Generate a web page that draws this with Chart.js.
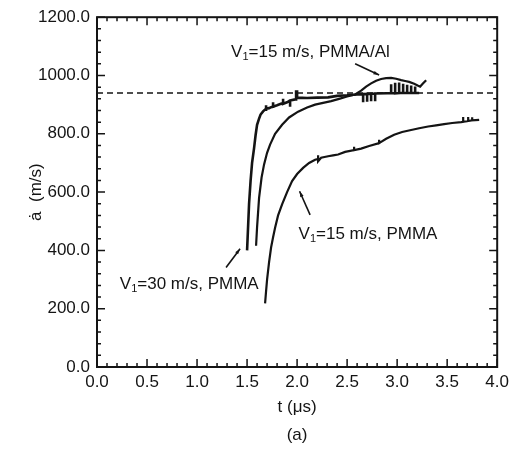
<!DOCTYPE html>
<html>
<head>
<meta charset="utf-8">
<script src="https://cdn.jsdelivr.net/npm/chart.js@4.4.1/dist/chart.umd.min.js"></script>
<style>
  html, body { margin: 0; padding: 0; background: #fff; }
  canvas { display: block; }
</style>
</head>
<body>
<canvas id="chart" width="514" height="455"></canvas>
<script>
// V1 = 30 m/s, PMMA (repeated t values are the vertical noise spikes of the record)
const tFast = [1.50, 1.51, 1.52, 1.535, 1.55, 1.57, 1.585, 1.60, 1.62, 1.635, 1.66, 1.68, 1.69, 1.69, 1.69, 1.72, 1.75, 1.76, 1.76, 1.76,
  1.80, 1.85, 1.86, 1.86, 1.86, 1.90, 1.92, 1.93, 1.93, 1.93, 1.98, 1.99, 1.99, 2.00, 2.00, 2.10, 2.20, 2.31, 2.40, 2.50,
  2.60, 2.66, 2.66, 2.66, 2.70, 2.70, 2.70, 2.74, 2.74, 2.74, 2.78, 2.78, 2.78, 2.90, 2.94, 2.94, 2.94, 2.98, 2.98, 2.98,
  3.02, 3.02, 3.02, 3.06, 3.06, 3.06, 3.10, 3.10, 3.10, 3.14, 3.14, 3.14, 3.18, 3.18, 3.18, 3.22];
const vFast = [400, 480, 560, 638, 700, 751, 795, 831, 852, 866, 877, 883, 883, 898, 886, 888, 893, 893, 908, 893,
  898, 905, 905, 920, 903, 908, 912, 912, 893, 914, 918, 918, 945, 945, 924, 923, 924, 925, 930, 932,
  935, 936, 908, 936, 937, 910, 937, 937, 912, 937, 938, 912, 938, 939, 939, 970, 939, 939, 975, 939,
  940, 976, 940, 940, 972, 940, 940, 968, 940, 940, 966, 940, 940, 962, 940, 940];

// V1 = 15 m/s, PMMA/Al
const tAl = [1.59, 1.60, 1.62, 1.645, 1.67, 1.70, 1.73, 1.78, 1.85, 1.92, 2.01, 2.10, 2.18, 2.26, 2.34, 2.42, 2.50, 2.58, 2.64, 2.69,
  2.74, 2.79, 2.84, 2.89, 2.94, 2.99, 3.04, 3.08, 3.12, 3.17, 3.21, 3.23, 3.26, 3.29];
const vAl = [416, 480, 580, 650, 695, 735, 763, 800, 831, 856, 876, 890, 900, 906, 912, 920, 928, 935, 948, 962,
  973, 982, 988, 991, 992, 989, 984, 981, 978, 972, 965, 962, 973, 984];

// V1 = 15 m/s, PMMA
const tSlow = [1.68, 1.69, 1.70, 1.72, 1.74, 1.76, 1.78, 1.81, 1.85, 1.90, 1.95, 2.00, 2.06, 2.12, 2.18, 2.21, 2.21, 2.21, 2.24, 2.31,
  2.36, 2.41, 2.48, 2.57, 2.57, 2.57, 2.64, 2.72, 2.82, 2.82, 2.82, 2.89, 2.97, 3.05, 3.14, 3.22, 3.31, 3.39, 3.47, 3.55,
  3.64, 3.66, 3.66, 3.66, 3.70, 3.71, 3.71, 3.71, 3.75, 3.75, 3.75, 3.82];
const vSlow = [218, 260, 300, 360, 410, 445, 478, 520, 558, 600, 638, 662, 683, 700, 711, 714, 726, 706, 718, 723,
  726, 729, 738, 744, 756, 744, 749, 758, 768, 780, 768, 783, 797, 806, 813, 819, 825, 829, 833, 837,
  840, 841, 858, 841, 843, 844, 858, 844, 846, 857, 846, 848];

const refLevel = 940;
const xMin = 0, xMax = 4.0, xStep = 0.5;
const yMin = 0, yMax = 1200, yStep = 200;

const ink = '#141414';
const fontFamily = '"Liberation Sans", Arial, sans-serif';
const fontSize = 17;

const notes = [
  { text: '=15 m/s, PMMA/Al', x: 1.34, y: 1064, from: [2.58, 1040], to: [2.82, 1002] },
  { text: '=30 m/s, PMMA', x: 0.228, y: 269, from: [1.29, 341], to: [1.43, 406] },
  { text: '=15 m/s, PMMA', x: 2.015, y: 440, from: [2.13, 522], to: [2.025, 603] }
];

function toPoints(ts, vs) {
  return ts.map((t, i) => ({ x: t, y: vs[i] }));
}

const frameTicks = {
  id: 'frameTicks',
  afterDatasetsDraw(chart) {
    const { ctx, chartArea: a, scales: { x, y } } = chart;
    ctx.save();
    ctx.strokeStyle = ink;
    ctx.lineWidth = 1.5;
    ctx.beginPath();
    for (let i = 0; i <= 40; i++) {
      const px = x.getPixelForValue(i * 0.1);
      const len = i % 5 === 0 ? 8 : 4;
      ctx.moveTo(px, a.bottom); ctx.lineTo(px, a.bottom - len);
      ctx.moveTo(px, a.top); ctx.lineTo(px, a.top + len);
    }
    for (let i = 0; i <= 30; i++) {
      const py = y.getPixelForValue(i * 40);
      const len = i % 5 === 0 ? 8 : 4;
      ctx.moveTo(a.left, py); ctx.lineTo(a.left + len, py);
      ctx.moveTo(a.right, py); ctx.lineTo(a.right - len, py);
    }
    ctx.stroke();
    ctx.lineWidth = 2;
    ctx.strokeRect(a.left, a.top, a.right - a.left, a.bottom - a.top);
    ctx.restore();
  }
};

const labels = {
  id: 'labels',
  afterDraw(chart) {
    const { ctx, scales: { x, y } } = chart;
    ctx.save();
    ctx.fillStyle = ink;
    ctx.strokeStyle = ink;
    ctx.textBaseline = 'alphabetic';
    notes.forEach(n => {
      let px = x.getPixelForValue(n.x);
      const py = y.getPixelForValue(n.y);
      ctx.font = fontSize + 'px ' + fontFamily;
      ctx.fillText('V', px, py);
      px += ctx.measureText('V').width;
      ctx.font = '11px ' + fontFamily;
      ctx.fillText('1', px, py + 3);
      px += ctx.measureText('1').width;
      ctx.font = fontSize + 'px ' + fontFamily;
      ctx.fillText(n.text, px, py);

      const x0 = x.getPixelForValue(n.from[0]), y0 = y.getPixelForValue(n.from[1]);
      const x1 = x.getPixelForValue(n.to[0]), y1 = y.getPixelForValue(n.to[1]);
      ctx.lineWidth = 1.6;
      ctx.beginPath();
      ctx.moveTo(x0, y0);
      ctx.lineTo(x1, y1);
      ctx.stroke();
      const ang = Math.atan2(y1 - y0, x1 - x0);
      ctx.beginPath();
      ctx.moveTo(x1, y1);
      ctx.lineTo(x1 - 6 * Math.cos(ang - 0.3), y1 - 6 * Math.sin(ang - 0.3));
      ctx.lineTo(x1 - 6 * Math.cos(ang + 0.3), y1 - 6 * Math.sin(ang + 0.3));
      ctx.closePath();
      ctx.fill();
    });
    ctx.restore();
  }
};

const curve = { showLine: true, pointRadius: 0, borderColor: ink, borderWidth: 2.2, tension: 0, fill: false };

new Chart(document.getElementById('chart'), {
  type: 'scatter',
  data: {
    datasets: [
      { ...curve, data: [{ x: xMin, y: refLevel }, { x: xMax, y: refLevel }], borderWidth: 1.5, borderDash: [6, 4] },
      { ...curve, data: toPoints(tFast, vFast), borderWidth: 2.6 },
      { ...curve, data: toPoints(tAl, vAl) },
      { ...curve, data: toPoints(tSlow, vSlow) }
    ]
  },
  options: {
    responsive: false,
    animation: false,
    layout: { padding: { left: 0, right: 14, top: 15, bottom: 0 } },
    plugins: {
      legend: { display: false },
      tooltip: { enabled: false },
      title: {
        display: true,
        text: '(a)',
        position: 'bottom',
        fullSize: false,
        color: ink,
        font: { family: fontFamily, size: fontSize, weight: 'normal' },
        padding: { top: 0, bottom: 9.6 }
      }
    },
    scales: {
      x: {
        type: 'linear',
        min: xMin, max: xMax,
        afterFit: s => { s.height = 58; },
        grid: { display: false, drawTicks: false },
        border: { display: false },
        ticks: {
          stepSize: xStep, padding: 5, color: ink,
          font: { family: fontFamily, size: fontSize },
          maxRotation: 0,
          callback: v => v.toFixed(1)
        },
        title: {
          display: true, text: 't (μs)', color: ink,
          font: { family: fontFamily, size: fontSize },
          padding: { top: 0, bottom: 7 }
        }
      },
      y: {
        type: 'linear',
        min: yMin, max: yMax,
        afterFit: s => { s.width = 97; },
        grid: { display: false, drawTicks: false },
        border: { display: false },
        ticks: {
          stepSize: yStep, padding: 7, color: ink,
          font: { family: fontFamily, size: fontSize },
          callback: v => v.toFixed(1)
        },
        title: {
          display: true, text: 'ȧ  (m/s)', color: ink,
          font: { family: fontFamily, size: fontSize },
          padding: { top: 26, bottom: 0 }
        }
      }
    }
  },
  plugins: [frameTicks, labels]
});
</script>
</body>
</html>
